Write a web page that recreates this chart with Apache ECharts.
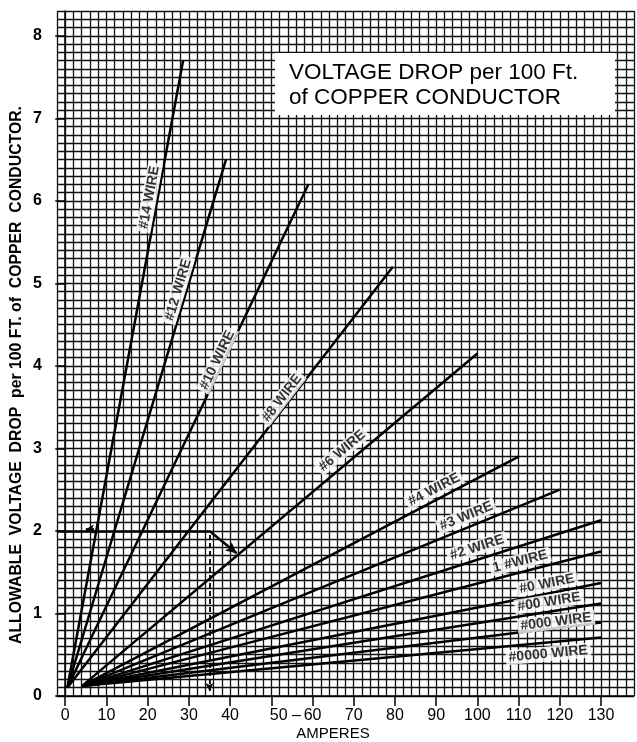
<!DOCTYPE html>
<html>
<head>
<meta charset="utf-8">
<title>Voltage drop per 100 ft of copper conductor</title>
<script src="https://cdn.jsdelivr.net/npm/echarts@6/dist/echarts.min.js"></script>
<style>
  html, body { margin: 0; padding: 0; background: #fff; }
  #chart { width: 637px; height: 742px; }
</style>
</head>
<body>
<div id="chart"></div>
<script>
// wire gauges, each a straight line from start to end (amperes, volts)
const wireNames = ['#14 WIRE', '#12 WIRE', '#10 WIRE', '#8 WIRE', '#6 WIRE', '#4 WIRE', '#3 WIRE',
  '#2 WIRE', '1 #WIRE', '#0 WIRE', '#00 WIRE', '#000 WIRE', '#0000 WIRE'];
const startAmps = [0.5, 0.5, 0.5, 0.5, 4, 4, 4, 4, 4, 4, 4, 4, 4];
const startVolts = [0.1, 0.1, 0.1, 0.1, 0.12, 0.12, 0.12, 0.12, 0.12, 0.12, 0.12, 0.12, 0.12];
const endAmps = [28.6, 39, 59, 79.5, 100, 110, 120, 130, 130, 130, 130, 130, 130];
const endVolts = [7.7, 6.5, 6.2, 5.2, 4.15, 2.9, 2.5, 2.13, 1.75, 1.37, 1.12, 0.89, 0.71];

// tick labels
const ampTicks = [0, 10, 20, 30, 40, 50, 60, 70, 80, 90, 100, 110, 120, 130];
const voltTicks = [0, 1, 2, 3, 4, 5, 6, 7, 8];

// worked example on the sheet: 2 V allowed at 35 A -> #6 wire
const exampleAmps = [-2, 35, 41.6];
const exampleVolts = [2, 2, 1.73];
const dropAmps = [35, 35];
const dropVolts = [1.95, 0.06];

// where the name tags sit (amperes, volts)
const tagAt = [
  [20.4, 6.04], [27.4, 4.92], [36.9, 4.07], [52.6, 3.61], [67.2, 2.97], [89.5, 2.5],
  [97.3, 2.18], [99.9, 1.8], [110.4, 1.63], [116.9, 1.36], [117.4, 1.14], [119.1, 0.9], [117.2, 0.51]
];

const FONT = '"Liberation Sans", Arial, sans-serif';
const INK = '#000';

const chart = echarts.init(document.getElementById('chart'));

const wireSeries = wireNames.map((name, i) => ({
  type: 'line',
  name: name,
  data: [[startAmps[i], startVolts[i]], [endAmps[i], endVolts[i]]],
  symbol: 'none',
  lineStyle: { color: INK, width: 2.5 },
  z: 3,
  silent: true
}));

const exampleSeries = {
  type: 'line',
  data: [],
  silent: true,
  markLine: {
    silent: true,
    animation: false,
    symbol: ['none', 'none'],
    label: { show: false },
    lineStyle: { color: INK, width: 2.6, type: 'solid' },
    data: [
      [{ coord: [exampleAmps[0], exampleVolts[0]] }, { coord: [exampleAmps[1], exampleVolts[1]] }],
      [{ coord: [exampleAmps[1], exampleVolts[1]] },
       { coord: [exampleAmps[2], exampleVolts[2]], symbol: 'arrow', symbolSize: [8, 11] }],
      [{ coord: [dropAmps[0], dropVolts[0]], lineStyle: { type: [5, 3], width: 1.8 } },
       { coord: [dropAmps[1], dropVolts[1]], symbol: 'arrow', symbolSize: [6, 8] }],
      [{ coord: [7, 2.02] }, { coord: [5, 2.02], symbol: 'arrow', symbolSize: [7, 8] }]
    ]
  },
  z: 4
};

// graph-paper axes: only their split lines are shown
const paperLine = { show: true, lineStyle: { color: '#111', width: 1.3 } };
const paperX = {
  type: 'value', min: -2, max: 138, interval: 2,
  axisLine: { show: false }, axisTick: { show: false }, axisLabel: { show: false },
  splitLine: paperLine
};
const paperY = {
  type: 'value', min: 0, max: 8.3, interval: 0.1,
  axisLine: { show: false }, axisTick: { show: false }, axisLabel: { show: false },
  splitLine: paperLine
};

const baseOption = {
  animation: false,
  backgroundColor: '#fff',
  grid: { left: 57, right: 3, top: 11, bottom: 46, containLabel: false },
  xAxis: [{
    type: 'value',
    min: -2,
    max: 138,
    position: 'bottom',
    axisLine: { show: true, onZero: false, lineStyle: { color: INK, width: 1.5 } },
    axisTick: { show: true, customValues: ampTicks, length: 10, lineStyle: { color: INK, width: 1.5 } },
    axisLabel: {
      show: true,
      customValues: ampTicks,
      margin: 12,
      color: INK,
      fontFamily: FONT,
      fontSize: 16,
      formatter: v => v === 50 ? '{p|50 –}' : String(v),
      rich: { p: { fontFamily: FONT, fontSize: 16, color: INK, padding: [0, 0, 0, 28] } }
    },
    splitLine: { show: false }
  }, Object.assign({ position: 'top' }, paperX)],
  yAxis: [{
    type: 'value',
    min: 0,
    max: 8.3,
    position: 'left',
    axisLine: { show: true, lineStyle: { color: INK, width: 1.5 } },
    axisTick: { show: true, customValues: voltTicks, length: 10, lineStyle: { color: INK, width: 1.5 } },
    axisLabel: {
      show: true,
      customValues: voltTicks,
      margin: 15,
      color: INK,
      fontFamily: FONT,
      fontSize: 16,
      fontWeight: 'bold'
    },
    splitLine: { show: false }
  }, Object.assign({ position: 'right' }, paperY)],
  graphic: [
    {
      type: 'rect',
      shape: { x: 275, y: 53, width: 340, height: 62 },
      style: { fill: '#fff' },
      z: 100
    },
    {
      type: 'text',
      x: 289, y: 61,
      style: { text: 'VOLTAGE DROP per 100 Ft.', font: '22.5px ' + FONT, fill: INK },
      z: 101
    },
    {
      type: 'text',
      x: 289, y: 86,
      style: { text: 'of COPPER CONDUCTOR', font: '22.5px ' + FONT, fill: INK },
      z: 101
    },
    {
      type: 'text',
      x: 17, y: 375,
      rotation: Math.PI / 2,
      style: {
        text: 'ALLOWABLE  VOLTAGE  DROP  per 100 FT. of  COPPER  CONDUCTOR.',
        font: 'bold 15.8px ' + FONT, fill: INK, align: 'center', verticalAlign: 'middle'
      },
      z: 101
    },
    {
      type: 'text',
      x: 333, y: 734,
      style: { text: 'AMPERES', font: '15px ' + FONT, fill: INK, align: 'center', verticalAlign: 'middle' },
      z: 101
    }
  ],
  series: wireSeries.concat([exampleSeries])
};

chart.setOption(baseOption);

// tilt each name tag to follow its line on screen
const tagData = wireNames.map((name, i) => {
  const p0 = chart.convertToPixel({ xAxisIndex: 0, yAxisIndex: 0 }, [startAmps[i], startVolts[i]]);
  const p1 = chart.convertToPixel({ xAxisIndex: 0, yAxisIndex: 0 }, [endAmps[i], endVolts[i]]);
  const angle = Math.atan2(p0[1] - p1[1], p1[0] - p0[0]) * 180 / Math.PI;
  return { name: name, value: tagAt[i], label: { rotate: angle } };
});

chart.setOption({
  series: wireSeries.concat([exampleSeries, {
    type: 'scatter',
    data: tagData,
    symbolSize: 0,
    silent: true,
    z: 6,
    label: {
      show: true,
      position: 'inside',
      formatter: '{b}',
      color: INK,
      fontFamily: FONT,
      fontSize: 14,
      fontWeight: 'bold',
      backgroundColor: '#fff',
      padding: [1, 3, 0, 3]
    }
  }])
});
</script>
</body>
</html>
